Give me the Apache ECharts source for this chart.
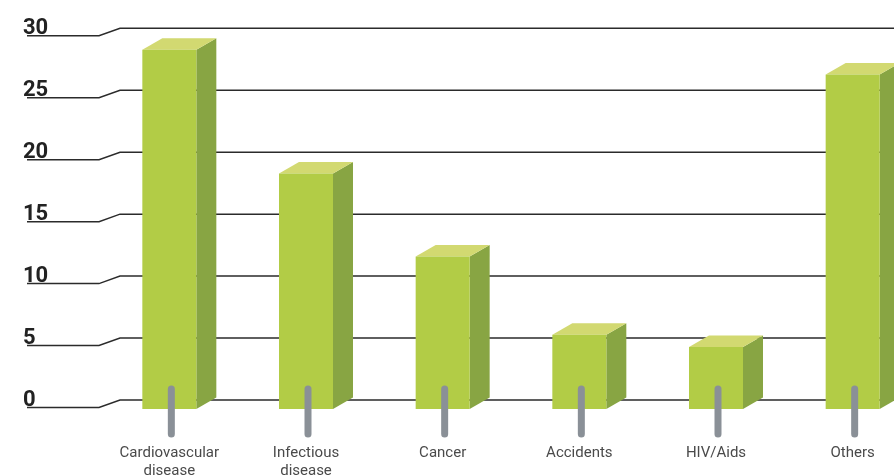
<!DOCTYPE html>
<html>
<head>
<meta charset="utf-8">
<script src="https://cdn.jsdelivr.net/npm/echarts@6/dist/echarts.min.js"></script>
<style>html,body{margin:0;padding:0;background:#fff;}#c{width:894px;height:475px;}</style>
</head>
<body>
<div id="c"></div>
<script>
const categories = ['Cardiovascular\ndisease', 'Infectious\ndisease', 'Cancer', 'Accidents', 'HIV/Aids', 'Others'];
const values = [29, 19, 12.3, 6, 5, 27];
const yTicks = [0, 5, 10, 15, 20, 25, 30];

const chart = echarts.init(document.getElementById('c'));

const FRONT = '#b2cc46', SIDE = '#88a543', TOP = '#d2d971', ROD = '#8a9097';

chart.setOption({
  animation: false,
  grid: { left: 101, right: -27, top: 28.3, bottom: 75, outerBoundsMode: 'none', containLabel: false },
  xAxis: {
    type: 'category',
    data: categories,
    axisLine: { show: false },
    axisTick: { show: false },
    axisLabel: { interval: 0, margin: 44, fontSize: 15, lineHeight: 18, color: '#4a4a4a', fontFamily: 'Roboto' }
  },
  yAxis: {
    type: 'value', min: 0, max: 30, interval: 5,
    axisLine: { show: false }, axisTick: { show: false }, splitLine: { show: false },
    axisLabel: { align: 'left', margin: 78, fontSize: 22, fontWeight: 'bold', color: '#222', fontFamily: 'Roboto', padding: [0, 0, 8, 0] }
  },
  series: [
    {
      type: 'custom',
      clip: false,
      z: 1,
      data: yTicks.map(v => [0, v]),
      renderItem: function (params, api) {
        const y = api.coord([0, api.value(1)])[1];
        return {
          type: 'polyline',
          shape: { points: [[27, y + 7.5], [99, y + 7.5], [120, y], [894, y]] },
          style: { stroke: '#2b2b2b', lineWidth: 1.5, fill: null }
        };
      }
    },
    {
      type: 'custom',
      clip: false,
      z: 5,
      data: values.map((v, i) => [i, v]),
      renderItem: function (params, api) {
        const base = api.coord([api.value(0), 0]);
        const top = api.coord([api.value(0), api.value(1)]);
        const cx = base[0];
        const hw = 27, dx = 20, dy = -11.5, off = 9;
        const x0 = cx - hw, x1 = cx + hw;
        const yt = top[1] + off, yb = base[1] + off;
        return {
          type: 'group',
          children: [
            { type: 'polygon', shape: { points: [[x1, yt], [x1 + dx, yt + dy], [x1 + dx, yb + dy], [x1, yb]] }, style: { fill: SIDE } },
            { type: 'polygon', shape: { points: [[x0, yt], [x0 + dx, yt + dy], [x1 + dx, yt + dy], [x1, yt]] }, style: { fill: TOP } },
            { type: 'rect', shape: { x: x0, y: yt, width: hw * 2, height: yb - yt }, style: { fill: FRONT } },
            { type: 'line', shape: { x1: cx + 2, y1: base[1] - 11, x2: cx + 2, y2: base[1] + 34 }, style: { stroke: ROD, lineWidth: 7, lineCap: 'round' } }
          ]
        };
      }
    }
  ]
});
</script>
</body>
</html>
